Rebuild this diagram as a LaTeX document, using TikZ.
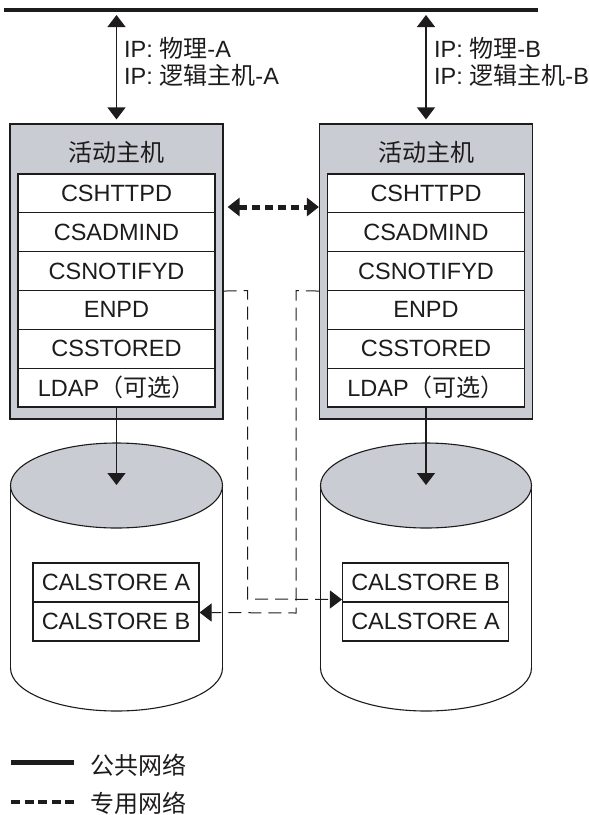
\documentclass[tikz,border=0pt]{standalone}
\usepackage{fontspec}
\setmainfont{Liberation Sans}
\newfontfamily\cjk{Noto Sans CJK SC}
\usetikzlibrary{arrows.meta,calc}
\definecolor{hostgray}{RGB}{201,204,211}
\definecolor{ink}{RGB}{30,27,28}
\begin{document}
\begin{tikzpicture}[x=1pt,y=-1pt,
  every node/.style={inner sep=0pt,text=ink},
  txt/.style={font=\fontsize{23.5}{26}\selectfont},
  cjktxt/.style={font=\cjk\fontsize{24}{26}\selectfont},
  hostbox/.style={draw=ink,fill=hostgray,line width=1.2pt,minimum width=213pt,minimum height=295pt},
  rowbox/.style={draw=ink,fill=white,line width=1.1pt,minimum width=197pt,minimum height=38.83pt,txt},
  calbox/.style={draw=ink,fill=white,line width=1.1pt,minimum width=166pt,minimum height=39pt,txt},
  tipA/.style={-{Triangle[width=18pt,length=12pt]}},
  tipAB/.style={{Triangle[width=18pt,length=12pt]}-{Triangle[width=18pt,length=12pt]}},
  conn/.style={draw=ink,line width=1.2pt},
  thindash/.style={draw=ink,line width=1pt,dash pattern=on 13pt off 7pt},
  thickdash/.style={draw=ink,line width=5pt,dash pattern=on 8pt off 5pt},
  cylline/.style={draw=ink,line width=1.1pt}
]
\useasboundingbox (0,0) rectangle (589,815);

% public network bus
\coordinate (busL) at (4,9.5);
\coordinate (busR) at (538,9.5);
\draw[ink,line width=4pt] (busL) -- (busR);

% host boxes
\node[hostbox] (hostA) at (116.5,271.5) {};
\node[hostbox] (hostB) at (426,271.5) {};
\node[cjktxt] (titleA) at (116.5,152) {活动主机};
\node[cjktxt] (titleB) at (426,152) {活动主机};

\foreach \h/\cx in {A/116.5,B/426}{
  \node[rowbox] (r1\h) at (\cx,193.4) {CSHTTPD};
  \node[rowbox] (r2\h) at (\cx,232.2) {CSADMIND};
  \node[rowbox] (r3\h) at (\cx,271.1) {CSNOTIFYD};
  \node[rowbox] (r4\h) at (\cx,309.9) {ENPD};
  \node[rowbox] (r5\h) at (\cx,348.7) {CSSTORED};
  \node[rowbox] (r6\h) at (\cx,387.6) {LDAP{\cjk\fontsize{24}{26}\selectfont（可选）}};
}

% IP labels
\newcommand{\cj}[1]{{\cjk\fontsize{24}{26}\selectfont #1}}
\node[txt,anchor=west] (ipA1) at (124,48) {IP: \cj{物理}-A};
\node[txt,anchor=west] (ipA2) at (124,75.5) {IP: \cj{逻辑主机}-A};
\node[txt,anchor=west] (ipB1) at (434,48) {IP: \cj{物理}-B};
\node[txt,anchor=west] (ipB2) at (434,75.5) {IP: \cj{逻辑主机}-B};

% arrows bus <-> hosts
\draw[conn,tipAB,shorten >=4pt] ($(busL -| hostA.north)+(0,5.5)$) -- (hostA.north);
\draw[conn,tipAB,shorten >=4pt] ($(busL -| hostB.north)+(0,5.5)$) -- (hostB.north);

% cylinders
\foreach \h/\cx/\rx in {A/116.5/106,B/426/105.5}{
  \draw[cylline,fill=white] (\cx,668) ellipse [x radius=\rx,y radius=43];
  \fill[white] (\cx-\rx,485.5) rectangle (\cx+\rx,668);
  \draw[cylline] (\cx-\rx,485.5) -- (\cx-\rx,668);
  \draw[cylline] (\cx+\rx,485.5) -- (\cx+\rx,668);
  \draw[cylline,fill=hostgray] (\cx,485.5) ellipse [x radius=\rx,y radius=42.5];
  \coordinate (cyl\h) at (\cx,485);
}

% calstore boxes
\node[calbox] (calA1) at (116,582.5) {CALSTORE A};
\node[calbox] (calA2) at (116,621.5) {CALSTORE B};
\node[calbox] (calB1) at (425.5,582.5) {CALSTORE B};
\node[calbox] (calB2) at (425.5,621.5) {CALSTORE A};

% host -> database arrows
\draw[conn,tipA] (r6A.south) -- (cylA);
\draw[conn,tipA] (r6B.south) -- (cylB);

% private network between hosts
\draw[thickdash,tipAB,shorten <=4pt] (hostA.east |- 0,207) -- (hostB.west |- 0,207);

% replication paths
\draw[thindash,tipA] (hostA.east |- r3A.south) -- (247.5,290.5) -- (247.5,599) -- ($(calB1.south west)+(0,-3)$);
\draw[thindash,tipA] (hostB.west |- r3B.south) -- (296,290.5) -- (296,613) -- ($(calA2.north east)+(0,11)$);

% legend
\coordinate (lg1a) at (11,762);
\coordinate (lg1b) at (74,762);
\coordinate (lg2a) at (11,802);
\coordinate (lg2b) at (74,802);
\draw[ink,line width=5pt] (lg1a) -- (lg1b);
\draw[ink,line width=4pt,dash pattern=on 9pt off 4.5pt] (lg2a) -- (lg2b);
\node[cjktxt,anchor=west] (lgt1) at (90,765) {公共网络};
\node[cjktxt,anchor=west] (lgt2) at (90,803) {专用网络};
\end{tikzpicture}
\end{document}
